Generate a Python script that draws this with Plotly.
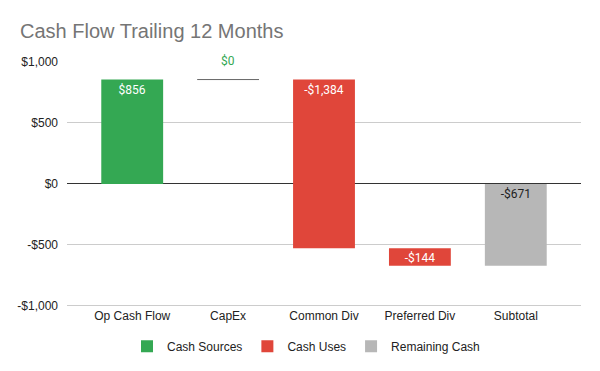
import plotly.graph_objects as go

categories = ["Op Cash Flow", "CapEx", "Common Div", "Preferred Div", "Subtotal"]
values = [856, 0, -1384, -144, -671]
kinds = ["source", "source", "use", "use", "total"]
tick_vals = [-1000, -500, 0, 500, 1000]
tick_text = ["-$1,000", "-$500", "$0", "$500", "$1,000"]

colors = {"source": "#34a853", "use": "#e0463a", "total": "#b7b7b7"}
label_colors = {"source": "white", "use": "white", "total": "#222222"}
names = {"source": "Cash Sources", "use": "Cash Uses", "total": "Remaining Cash"}


def fmt(v):
    return ("-$" if v < 0 else "$") + f"{abs(v):,}"


# compute floating bar extents (low, high)
cum = 0
lows, highs = [], []
for v, k in zip(values, kinds):
    if k == "total":
        a, b = 0, v
    else:
        a, b = cum, cum + v
        cum += v
    lows.append(min(a, b))
    highs.append(max(a, b))

fig = go.Figure()
for k in ["source", "use", "total"]:
    xs, bs, hs, ts = [], [], [], []
    for c, v, kk, lo, hi in zip(categories, values, kinds, lows, highs):
        if kk == k and hi - lo > 0:
            xs.append(c)
            bs.append(lo)
            hs.append(hi - lo)
            ts.append(fmt(v))
    fig.add_trace(go.Bar(
        x=xs, y=hs, base=bs, name=names[k], text=ts,
        marker=dict(color=colors[k], line=dict(width=0)),
        textposition="inside", insidetextanchor="end",
        textfont=dict(family="Roboto", size=12, color=label_colors[k]),
        constraintext="none", width=0.645, hoverinfo="skip",
    ))

# zero-height bars shown as a line with outside label
for i, (c, v, lo, hi) in enumerate(zip(categories, values, lows, highs)):
    if hi - lo == 0:
        fig.add_shape(type="line", xref="x", yref="y",
                      x0=i - 0.3225, x1=i + 0.3225, y0=lo, y1=lo,
                      line=dict(color="#666666", width=1))
        fig.add_annotation(x=c, y=lo, text=fmt(v), showarrow=False,
                           yshift=19, font=dict(family="Roboto", size=12, color=colors[kinds[i]]),
                           bgcolor="white")

fig.update_layout(
    width=600, height=371,
    margin=dict(l=67, r=19, t=62, b=64, autoexpand=False),
    paper_bgcolor="white", plot_bgcolor="white",
    barmode="overlay",
    title=dict(text="Cash Flow Trailing 12 Months", x=20 / 600, xanchor="left",
               y=1 - 31 / 371, yanchor="middle",
               font=dict(family="Liberation Sans, Arial", size=20, color="#757575")),
    font=dict(family="Liberation Sans, Arial", size=12, color="#222222"),
    showlegend=True,
    legend=dict(orientation="h", x=0.5 - 18 / 514, xanchor="center", y=-0.16, yanchor="middle",
                font=dict(size=12, color="#222222"), itemwidth=30, traceorder="normal"),
    xaxis=dict(type="category", categoryorder="array", categoryarray=categories,
               range=[-0.68, 4.68], showgrid=False, showline=False, ticks="",
               tickfont=dict(size=12, color="#222222"), fixedrange=True),
    yaxis=dict(range=[-1010, 1000], tickvals=tick_vals, ticktext=tick_text,
               showgrid=True, gridcolor="#cccccc", gridwidth=1,
               zeroline=True, zerolinecolor="#333333", zerolinewidth=1,
               showline=False, ticks="", ticklabelstandoff=8,
               tickfont=dict(size=12, color="#222222"), fixedrange=True),
)
fig.write_html("out.html", config={"displayModeBar": False},
               post_script="document.body.style.margin='0';document.body.style.padding='0';")
